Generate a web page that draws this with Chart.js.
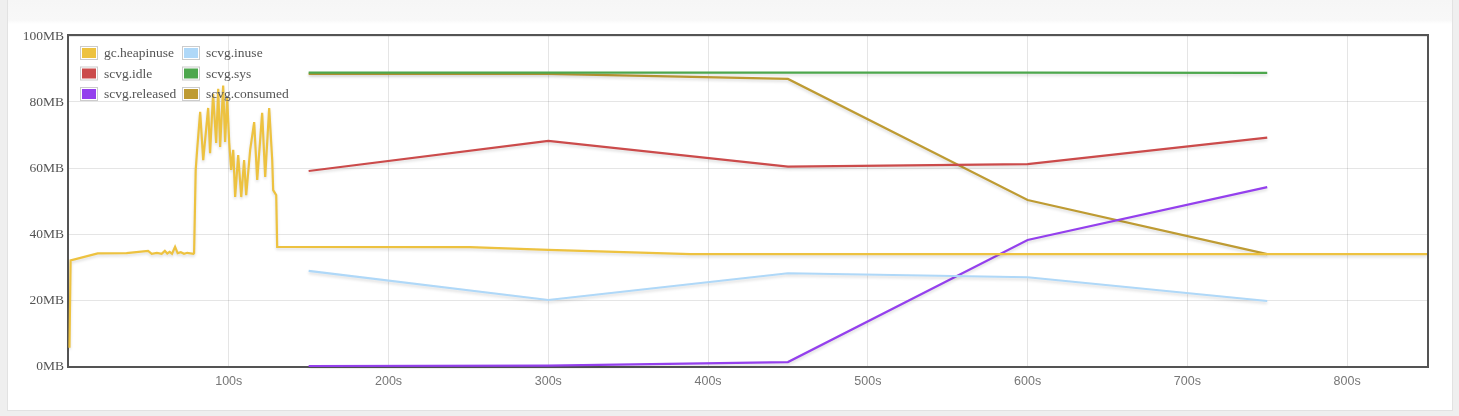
<!DOCTYPE html>
<html>
<head>
<meta charset="utf-8">
<script src="https://cdn.jsdelivr.net/npm/chart.js@4/dist/chart.umd.min.js"></script>
<style>
    body { margin: 0; background: #efefef; width: 1459px; height: 416px; overflow: hidden; position: relative; }
    #panel {
        position: absolute; left: 7px; top: 0; width: 1444px; height: 410px;
        background: linear-gradient(#f6f6f6 0, #f8f8f8 20px, #ffffff 24px);
        border: 1px solid #e2e2e2; border-top: none;
    }
    #grafico { position: absolute; left: 0; top: 0; }
</style>
</head>
<body>
<div id="panel"></div>
<canvas id="grafico" width="1459" height="416"></canvas>
<script>
// ===================== DADOS =====================
// gc.heapinuse (segundos, MB)
const heapTimes = [
    0.3, 1, 18, 36, 49.5, 51.8, 55, 58, 60, 61.5, 63, 64.5, 66.4, 68, 70, 72, 74, 77.9,
    78.3, 79.3, 80.2, 82.1, 84, 87.1, 88.3, 90.2, 92.1, 93.4, 94.6, 96.5, 97.7, 99,
    100.3, 101.5, 102.8, 104, 105.9, 107.8, 109.6, 110.9, 113.4, 115.9, 117.8, 120.9,
    122.8, 125.3, 127.2, 127.8, 129.7, 130.3, 251, 300, 389, 850
];
const heapValues = [
    5.5, 32, 34.1, 34.2, 34.9, 34, 34.3, 34, 34.9, 34.1, 34.6, 34, 36.1, 34.2, 34.5, 34, 34.3, 34,
    34.2, 59.4, 65.5, 77, 62.4, 78.2, 64.5, 82.5, 67.6, 84, 66.4, 85, 67.9, 81.2,
    67.6, 59.4, 65.5, 51.2, 63.9, 51.2, 62.4, 51.8, 65.5, 73.9, 56.4, 76.7,
    57.3, 78.2, 62.4, 53.3, 51.8, 36.1, 36, 35.2, 33.9, 33.9
];

// scvg.* (amostras a cada 150s)
const scvgTimes = [150, 300, 450, 600, 750];
const scvgInuse = [28.8, 20, 28.1, 26.9, 19.7];
const scvgIdle = [59.1, 68.2, 60.4, 61.2, 69.2];
const scvgSys = [88.9, 88.9, 88.9, 88.9, 88.8];
const scvgReleased = [0, 0.1, 1.2, 38.2, 54.2];
const scvgConsumed = [88.5, 88.5, 87, 50.3, 33.9];

const seriesLabels = ["gc.heapinuse", "scvg.inuse", "scvg.idle", "scvg.sys", "scvg.released", "scvg.consumed"];
const seriesColors = ["#edc240", "#afd8f8", "#cb4b4b", "#4da74d", "#9440ed", "#be9b33"];

function pontos(xs, ys) {
    return xs.map((x, i) => ({ x: x, y: ys[i] }));
}

const seriesData = [
    pontos(heapTimes, heapValues),
    pontos(scvgTimes, scvgInuse),
    pontos(scvgTimes, scvgIdle),
    pontos(scvgTimes, scvgSys),
    pontos(scvgTimes, scvgReleased),
    pontos(scvgTimes, scvgConsumed)
];

// ===================== PLUGINS =====================
const sombra = {
    id: "sombra",
    beforeDatasetDraw(chart) {
        const ctx = chart.ctx;
        ctx.save();
        ctx.shadowColor = "rgba(0,0,0,0.14)";
        ctx.shadowBlur = 3;
        ctx.shadowOffsetY = 2;
    },
    afterDatasetDraw(chart) {
        chart.ctx.restore();
    }
};

const moldura = {
    id: "moldura",
    beforeDatasetsDraw(chart) {
        const a = chart.chartArea;
        const ctx = chart.ctx;
        ctx.save();
        ctx.strokeStyle = "#545454";
        ctx.lineWidth = 2;
        ctx.strokeRect(a.left - 1, a.top - 1, a.right - a.left + 2, a.bottom - a.top + 2);
        ctx.restore();
    }
};

// legenda estilo flot, 2 colunas dentro do grafico
const legenda = {
    id: "legenda",
    afterDatasetsDraw(chart) {
        const a = chart.chartArea;
        const ctx = chart.ctx;
        ctx.save();
        ctx.font = "13.5px 'Liberation Serif', serif";
        ctx.textBaseline = "middle";
        chart.data.datasets.forEach((ds, i) => {
            const col = i % 2, row = Math.floor(i / 2);
            const x = a.left + 11 + col * 102;
            const y = a.top + 10 + row * 20.5;
            ctx.fillStyle = "#ffffff";
            ctx.fillRect(x, y, 18, 14);
            ctx.strokeStyle = "#cccccc";
            ctx.lineWidth = 1;
            ctx.strokeRect(x + 0.5, y + 0.5, 17, 13);
            ctx.fillStyle = ds.borderColor;
            ctx.fillRect(x + 2, y + 2, 14, 10);
            ctx.fillStyle = "#545454";
            ctx.fillText(ds.label, x + 24, y + 7.5);
        });
        ctx.restore();
    }
};

// ===================== GRAFICO =====================
const ctx = document.getElementById("grafico").getContext("2d");
new Chart(ctx, {
    type: "line",
    data: {
        datasets: seriesLabels.map((label, i) => ({
            label: label,
            data: seriesData[i],
            borderColor: seriesColors[i],
            backgroundColor: seriesColors[i],
            borderWidth: 2.2,
            pointRadius: 0,
            tension: 0,
            fill: false,
            clip: 3
        }))
    },
    options: {
        responsive: false,
        animation: false,
        layout: { padding: { left: 7, right: 32, top: 36, bottom: 26 } },
        plugins: {
            legend: { display: false },
            tooltip: { enabled: false }
        },
        scales: {
            x: {
                type: "linear",
                min: 0,
                max: 850,
                afterBuildTicks: s => { s.ticks = s.ticks.filter(t => t.value > 0 && t.value % 100 === 0); },
                afterFit: s => { s.height = 24; },
                grid: { color: "rgba(0,0,0,0.1)", drawTicks: false },
                border: { display: false },
                ticks: {
                    stepSize: 100,
                    padding: 8,
                    maxRotation: 0,
                    color: "#777777",
                    font: { family: "'Liberation Sans', Arial, sans-serif", size: 12.5 },
                    callback: v => v + "s"
                }
            },
            y: {
                min: 0,
                max: 100,
                afterFit: s => { s.width = 62; },
                grid: { color: "rgba(0,0,0,0.1)", drawTicks: false },
                border: { display: false },
                ticks: {
                    stepSize: 20,
                    padding: 5,
                    color: "#545454",
                    font: { family: "'Liberation Serif', serif", size: 13.5 },
                    callback: v => v + "MB"
                }
            }
        }
    },
    plugins: [sombra, moldura, legenda]
});
</script>
</body>
</html>
